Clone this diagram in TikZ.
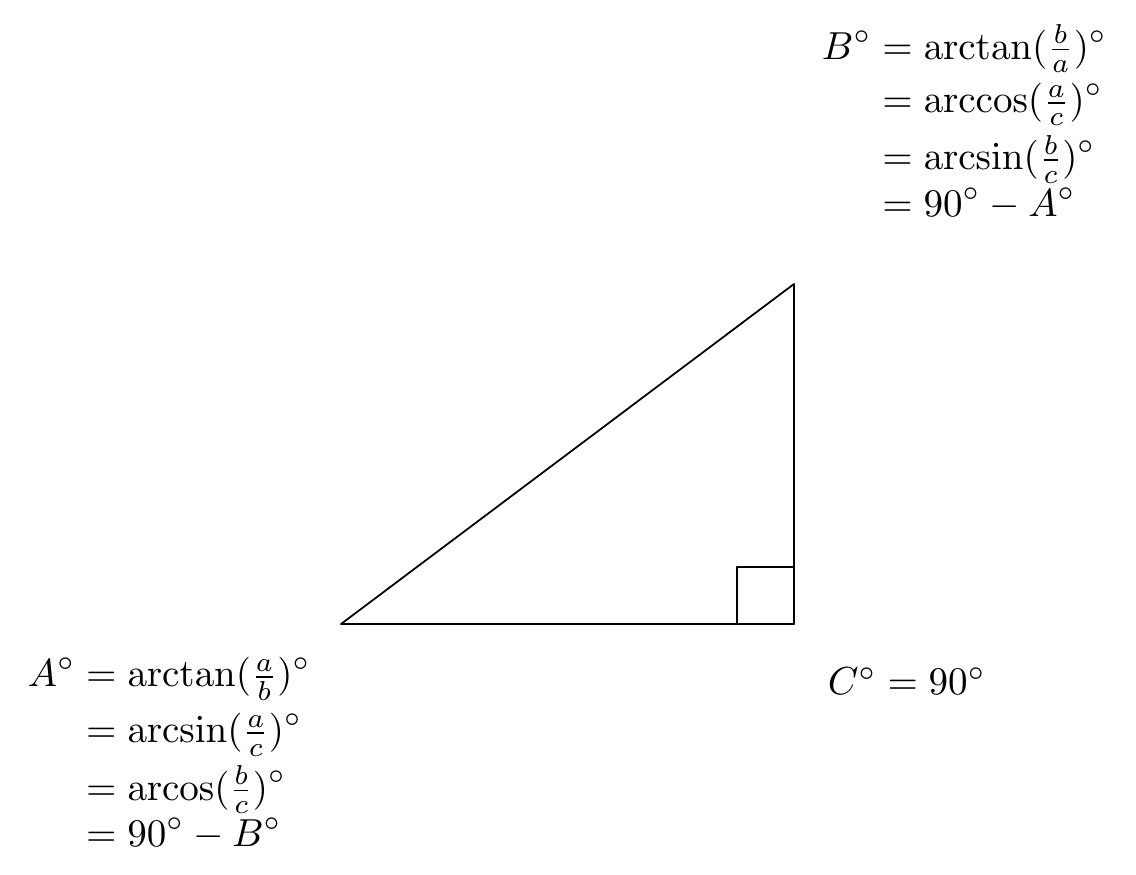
\documentclass[tikz,border=0pt]{standalone}
\usepackage{amsmath}
\usetikzlibrary{positioning}

\begin{document}
\begin{tikzpicture}[x=0.256pt,y=-0.256pt,line cap=round,line join=round]
\path[fill=white] (0,0) rectangle (1136,875);
\tikzset{side/.style={draw=black,line width=0.45pt},eqn/.style={inner sep=0pt,outer sep=0pt,execute at begin node={\setlength{\jot}{0pt}}}}
\coordinate (A) at (341,624); \coordinate (C) at (794,624); \coordinate (B) at (794,284);
\draw[side] (A) -- (C) -- (B) -- cycle;
\draw[side] (737,567) rectangle (C);
\node[eqn,anchor=north west] (Beq) at (822,25) {$\begin{aligned}B^\circ &= \arctan(\tfrac{b}{a})^\circ\\[1.6pt] &= \arccos(\tfrac{a}{c})^\circ\\[1.3pt] &= \arcsin(\tfrac{b}{c})^\circ\\ &= 90^\circ - A^\circ\end{aligned}$};
\node[eqn,anchor=north west] (Aeq) at (28,654) {$\begin{aligned}A^\circ &= \arctan(\tfrac{a}{b})^\circ\\[2.3pt] &= \arcsin(\tfrac{a}{c})^\circ\\[1.3pt] &= \operatorname{arcos}(\tfrac{b}{c})^\circ\\ &= 90^\circ - B^\circ\end{aligned}$};
\node[eqn,anchor=base west] (Ceq) at (828,695) {$C^\circ = 90^\circ$};
\end{tikzpicture}
\end{document}
